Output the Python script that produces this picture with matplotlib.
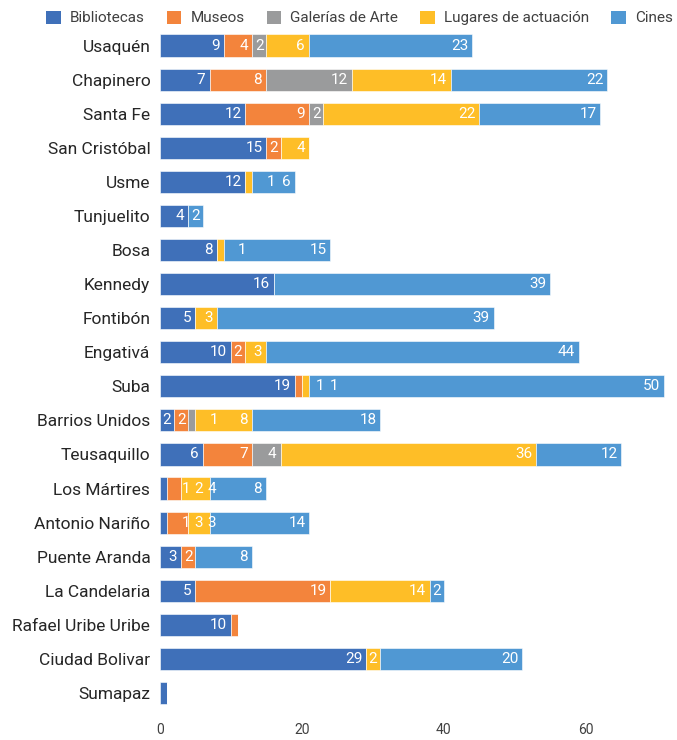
import matplotlib
matplotlib.use('Agg')
import matplotlib.pyplot as plt
from matplotlib import font_manager
from matplotlib.patches import Patch

localidades = ['Usaquén', 'Chapinero', 'Santa Fe', 'San Cristóbal', 'Usme', 'Tunjuelito',
               'Bosa', 'Kennedy', 'Fontibón', 'Engativá', 'Suba', 'Barrios Unidos',
               'Teusaquillo', 'Los Mártires', 'Antonio Nariño', 'Puente Aranda',
               'La Candelaria', 'Rafael Uribe Uribe', 'Ciudad Bolivar', 'Sumapaz']

bibliotecas = [9, 7, 12, 15, 12, 4, 8, 16, 5, 10, 19, 2, 6, 1, 1, 3, 5, 10, 29, 1]
museos      = [4, 8, 9, 2, 0, 0, 0, 0, 0, 2, 1, 2, 7, 2, 3, 2, 19, 1, 0, 0]
galerias    = [2, 12, 2, 0, 0, 0, 0, 0, 0, 0, 0, 1, 4, 0, 0, 0, 0, 0, 0, 0]
lugares     = [6, 14, 22, 4, 1, 0, 1, 0, 3, 3, 1, 8, 36, 4, 3, 0, 14, 0, 2, 0]
cines       = [23, 22, 17, 0, 6, 2, 15, 39, 39, 44, 50, 18, 12, 8, 14, 8, 2, 0, 20, 0]

series = ['Bibliotecas', 'Museos', 'Galerías de Arte', 'Lugares de actuación', 'Cines']
valores = [bibliotecas, museos, galerias, lugares, cines]
colores = ['#3F70B9', '#F3843C', '#9A9B9C', '#FEBE27', '#5098D3']


def pick_font(names):
    for n in names:
        try:
            font_manager.findfont(n, fallback_to_default=False)
            return n
        except Exception:
            pass
    return 'DejaVu Sans'


fuente = pick_font(['Liberation Sans Narrow', 'Roboto', 'Liberation Sans'])
plt.rcParams['font.family'] = [fuente, 'DejaVu Sans']

W, H = 677, 740
fig = plt.figure(figsize=(W / 100, H / 100), dpi=100)
ax = fig.add_axes([160 / W, 1 - 710 / H, (671 - 160) / W, (710 - 28.5) / H])

xmax = 72
n = len(localidades)
ypos = list(range(n))
left = [0] * n
for nombre, vals, col in zip(series, valores, colores):
    ax.barh(ypos, vals, left=left, height=0.65, color=col, edgecolor='white',
            linewidth=0.4, label=nombre)
    left = [l + v for l, v in zip(left, vals)]

ax.set_xlim(0, xmax)
ax.set_ylim(n - 0.5, -0.5)
ax.set_yticks(ypos)
ax.set_yticklabels(localidades, fontsize=12.5, color='#262626')
ax.set_xticks([0, 20, 40, 60])
ax.tick_params(axis='x', labelsize=10, colors='#404040', length=0, pad=9)
ax.tick_params(axis='y', length=0, pad=7)
for s in ax.spines.values():
    s.set_visible(False)

# etiquetas de datos (blanco, al final de cada segmento; las que no caben se corren)
ppu = (671 - 160) / xmax  # pixeles por unidad
for i in range(n):
    inicio = 0
    prev = None
    for vals in valores:
        v = vals[i]
        if v <= 0:
            continue
        fin = inicio + v
        txt = str(v)
        w = 7.2 * len(txt)
        seg = v * ppu
        if seg >= w + 3:
            cx = max(fin * ppu - 5 - w / 2, inicio * ppu + seg / 2)
        else:
            cx = fin * ppu + 18.5
        if prev is not None:
            cx = max(cx, prev[0] + prev[1] / 2 + w / 2 + 6)
        prev = (cx, w)
        ax.text(cx / ppu, i, txt, ha='center', va='center', color='white', fontsize=11)
        inicio = fin

handles = [Patch(facecolor=c, edgecolor='none') for c in colores]
fig.legend(handles, series, loc='center left', bbox_to_anchor=(40 / W, 1 - 18 / H),
           ncol=5, frameon=False, fontsize=11, handlelength=0.95, handleheight=0.95,
           handletextpad=0.6, columnspacing=1.45, labelcolor='#404040', borderaxespad=0)

fig.savefig('out.png', dpi=100)
